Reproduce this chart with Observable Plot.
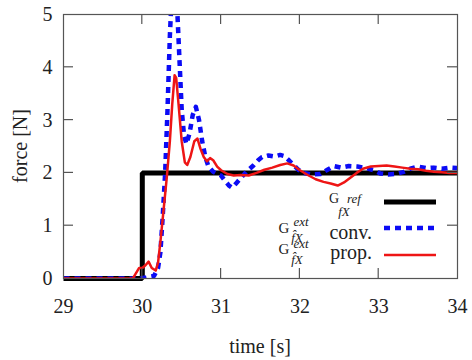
<!DOCTYPE html>
<html>
<head>
<meta charset="utf-8">
<script src="https://cdn.jsdelivr.net/npm/d3@7"></script>
<script src="https://cdn.jsdelivr.net/npm/@observablehq/plot@0.6"></script>
<style>
  html, body { margin: 0; padding: 0; background: #fff; }
  #chart svg, #chart svg text { font-family: "Liberation Serif", "DejaVu Serif", serif !important; }
</style>
</head>
<body>
<div id="chart"></div>
<script>
// Reference (step) force
const refTime = [29, 30, 30, 34];
const refForce = [0, 0, 2, 2];

// Conventional estimate (blue dashed)
const convTime = [29.0, 29.95, 30.05, 30.15, 30.2, 30.23, 30.26, 30.29, 30.32, 30.35, 30.38, 30.41, 30.44, 30.47, 30.5, 30.53, 30.56, 30.6, 30.64, 30.68, 30.72, 30.76, 30.8, 30.84, 30.9, 30.95, 31.0, 31.05, 31.1, 31.14, 31.19, 31.25, 31.32, 31.41, 31.47, 31.52, 31.6, 31.68, 31.75, 31.8, 31.86, 31.92, 31.98, 32.05, 32.15, 32.26, 32.35, 32.43, 32.52, 32.62, 32.73, 32.84, 32.94, 33.02, 33.12, 33.22, 33.32, 33.4, 33.5, 33.6, 33.7, 33.8, 33.9, 34.0];
const convForce = [0, 0, 0.02, 0.05, 0.2, 0.5, 1.2, 2.0, 3.2, 4.6, 5.6, 5.8, 5.2, 4.2, 3.2, 2.7, 2.55, 2.75, 3.1, 3.25, 3.0, 2.6, 2.3, 2.12, 2.02, 1.98, 1.95, 1.85, 1.76, 1.72, 1.8, 1.9, 2.02, 2.14, 2.24, 2.3, 2.33, 2.31, 2.34, 2.32, 2.24, 2.15, 2.06, 2.0, 1.97, 1.98, 2.06, 2.13, 2.1, 2.13, 2.12, 2.09, 2.05, 1.99, 1.97, 1.98, 2.02, 2.08, 2.12, 2.09, 2.1, 2.08, 2.1, 2.09];

// Proposed estimate (red)
const propTime = [29.0, 29.88, 29.92, 29.96, 30.0, 30.04, 30.08, 30.12, 30.17, 30.2, 30.23, 30.27, 30.31, 30.35, 30.38, 30.41, 30.43, 30.46, 30.5, 30.54, 30.57, 30.61, 30.66, 30.7, 30.74, 30.78, 30.82, 30.86, 30.9, 30.95, 31.0, 31.08, 31.16, 31.25, 31.35, 31.45, 31.55, 31.65, 31.75, 31.84, 31.92, 32.0, 32.1, 32.2, 32.3, 32.39, 32.48, 32.56, 32.64, 32.72, 32.8, 32.9, 33.0, 33.1, 33.2, 33.3, 33.4, 33.5, 33.6, 33.7, 33.8, 33.9, 34.0];
const propForce = [0, 0, 0.1, 0.2, 0.2, 0.25, 0.32, 0.2, 0.15, 0.3, 0.7, 1.3, 1.9, 2.6, 3.3, 3.85, 3.8, 3.3, 2.6, 2.2, 2.15, 2.3, 2.6, 2.65, 2.45, 2.3, 2.22, 2.28, 2.24, 2.12, 2.05, 1.98, 1.95, 1.96, 1.95, 2.0, 2.06, 2.1, 2.15, 2.18, 2.14, 2.05, 1.96, 1.88, 1.83, 1.8, 1.76, 1.82, 1.91, 2.0, 2.08, 2.12, 2.13, 2.14, 2.12, 2.1, 2.08, 2.07, 2.04, 2.02, 2.01, 2.0, 2.0];

const xTicks = [29, 30, 31, 32, 33, 34];
const yTicks = [0, 1, 2, 3, 4, 5];

const refData = refTime.map((t, i) => ({t, f: refForce[i]}));
const convData = convTime.map((t, i) => ({t, f: convForce[i]}));
const propData = propTime.map((t, i) => ({t, f: propForce[i]}));

const FONT = "Liberation Serif, DejaVu Serif, serif";
const W = 472, H = 360;
const plot = Plot.plot({
  width: W,
  height: H,
  marginLeft: 63,
  marginRight: 15,
  marginTop: 14,
  marginBottom: 82,
  style: {fontFamily: FONT, fontSize: "20px", color: "#222", background: "#fff"},
  x: {domain: [29, 34]},
  y: {domain: [0, 5]},
  marks: [
    Plot.axisX({ticks: xTicks, tickFormat: d3.format("d"), tickSize: 0, tickPadding: 20, label: null, fontSize: 20, fill: "#222"}),
    Plot.axisY({ticks: yTicks, tickFormat: d3.format("d"), tickSize: 0, tickPadding: 11, label: null, fontSize: 20, fill: "#222"}),
    Plot.line(refData, {x: "t", y: "f", stroke: "#000", strokeWidth: 5, strokeLinejoin: "miter", strokeLinecap: "butt"}),
    Plot.line(convData, {x: "t", y: "f", stroke: "#0b0bf5", strokeWidth: 4.5, strokeDasharray: "6,5", strokeLinecap: "butt", clip: true}),
    Plot.line(propData, {x: "t", y: "f", stroke: "#ee1515", strokeWidth: 2.5, clip: true}),
    Plot.frame({stroke: "#555", strokeWidth: 1.2})
  ]
});
document.getElementById("chart").appendChild(plot);

const svg = d3.select(plot);
const sx = plot.scale("x"), sy = plot.scale("y");
const x0 = 63, x1 = W - 15, y0 = 14, y1 = H - 82;
const tk = svg.append("g").attr("stroke", "#555").attr("stroke-width", 1.2);
xTicks.slice(1, -1).forEach(v => {
  const px = sx.apply(v);
  tk.append("line").attr("x1", px).attr("x2", px).attr("y1", y1).attr("y2", y1 - 10);
  tk.append("line").attr("x1", px).attr("x2", px).attr("y1", y0).attr("y2", y0 + 10);
});
yTicks.slice(1, -1).forEach(v => {
  const py = sy.apply(v);
  tk.append("line").attr("y1", py).attr("y2", py).attr("x1", x0).attr("x2", x0 + 10);
  tk.append("line").attr("y1", py).attr("y2", py).attr("x1", x1).attr("x2", x1 - 10);
});

// axis titles
svg.append("text").attr("x", (x0 + x1) / 2).attr("y", 353).attr("text-anchor", "middle")
  .attr("font-size", 20).attr("fill", "#222").text("time [s]");
svg.append("text").attr("transform", `translate(27,${(y0 + y1) / 2}) rotate(-90)`).attr("text-anchor", "middle")
  .attr("font-size", 20).attr("fill", "#222").text("force [N]");

// legend
const lg = svg.append("g").attr("fill", "#222");
function label(gx, gb, gs, sup, supx, supb, sub, subx, subb, word, wordb) {
  lg.append("text").attr("x", gx).attr("y", gb).attr("font-size", gs).text("G");
  lg.append("text").attr("x", supx).attr("y", supb).attr("font-size", 13).attr("font-style", "italic").text(sup);
  lg.append("text").attr("x", subx).attr("y", subb).attr("font-size", 13).attr("font-style", "italic").text(sub);
  if (word) lg.append("text").attr("x", 372).attr("y", wordb).attr("text-anchor", "end").attr("font-size", 20).text(word);
}
label(334, 203, 14, "ref", 354, 203, "fX", 344, 216, null, 0);
label(284, 233, 15, "ext", 301, 226, "f\u0302X", 297, 242, "conv.", 239);
label(284, 254, 15, "ext", 301, 248, "f\u0302X", 297, 264, "prop.", 259);
lg.append("line").attr("x1", 384).attr("x2", 436).attr("y1", 202).attr("y2", 202).attr("stroke", "#000").attr("stroke-width", 5);
lg.append("line").attr("x1", 384).attr("x2", 436).attr("y1", 228).attr("y2", 228).attr("stroke", "#0b0bf5").attr("stroke-width", 4.5).attr("stroke-dasharray", "6,5");
lg.append("line").attr("x1", 384).attr("x2", 436).attr("y1", 255).attr("y2", 255).attr("stroke", "#ee1515").attr("stroke-width", 2.5);

svg.selectAll("text").attr("font-family", FONT).style("font-family", FONT);
</script>
</body>
</html>
